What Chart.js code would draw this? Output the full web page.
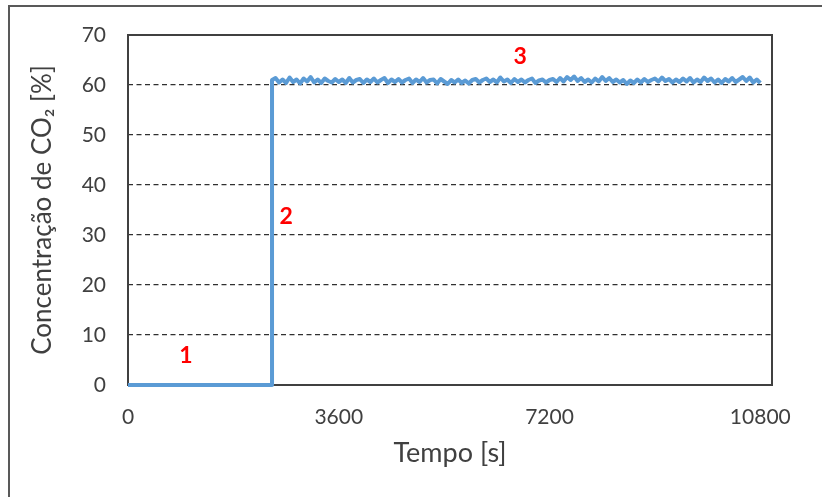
<!DOCTYPE html>
<html>
<head>
<meta charset="utf-8">
<script src="https://cdn.jsdelivr.net/npm/chart.js@4/dist/chart.umd.min.js"></script>
<style>
  html, body { margin: 0; padding: 0; background: #ffffff; }
  #wrap { position: relative; width: 822px; height: 497px; }
</style>
</head>
<body>
<div id="wrap"><canvas id="c" width="822" height="497"></canvas></div>
<script>
// ---- Data ----
const timeSeconds = [
  0, 2460,
  2460, 2520, 2580, 2640, 2700, 2760, 2820, 2880, 2940, 3000,
  3060, 3120, 3180, 3240, 3300, 3360, 3420, 3480, 3540, 3600,
  3660, 3720, 3780, 3840, 3900, 3960, 4020, 4080, 4140, 4200,
  4260, 4320, 4380, 4440, 4500, 4560, 4620, 4680, 4740, 4800,
  4860, 4920, 4980, 5040, 5100, 5160, 5220, 5280, 5340, 5400,
  5460, 5520, 5580, 5640, 5700, 5760, 5820, 5880, 5940, 6000,
  6060, 6120, 6180, 6240, 6300, 6360, 6420, 6480, 6540, 6600,
  6660, 6720, 6780, 6840, 6900, 6960, 7020, 7080, 7140, 7200,
  7260, 7320, 7380, 7440, 7500, 7560, 7620, 7680, 7740, 7800,
  7860, 7920, 7980, 8040, 8100, 8160, 8220, 8280, 8340, 8400,
  8460, 8520, 8580, 8640, 8700, 8760, 8820, 8880, 8940, 9000,
  9060, 9120, 9180, 9240, 9300, 9360, 9420, 9480, 9540, 9600,
  9660, 9720, 9780, 9840, 9900, 9960, 10020, 10080, 10140, 10200,
  10260, 10320, 10380, 10440, 10500, 10560, 10620, 10680, 10740, 10800
];
const co2Percent = [
  0, 0,
  61.0, 61.4, 60.5, 61.1, 60.4, 61.5, 60.6, 61.1, 60.3, 61.3,
  60.7, 61.6, 60.5, 61.1, 60.4, 61.3, 60.8, 60.5, 61.2, 60.6,
  61.1, 60.4, 61.4, 60.5, 61.0, 61.2, 60.4, 61.1, 60.6, 61.3,
  60.5, 61.0, 61.4, 60.4, 61.1, 60.6, 61.2, 60.5, 61.0, 61.3,
  60.4, 61.1, 60.6, 61.4, 60.5, 61.0, 61.1, 60.3, 61.2, 60.7,
  60.2, 61.0, 60.5, 61.1, 60.4, 60.9, 60.3, 61.0, 61.2, 60.5,
  61.0, 61.3, 60.6, 61.1, 60.5, 61.5, 60.7, 61.1, 60.4, 61.2,
  60.6, 61.1, 60.5, 61.0, 61.3, 60.4, 60.9, 61.1, 60.5, 61.0,
  61.2, 60.6, 61.4, 60.7, 61.6, 61.0, 61.7, 60.8, 61.4, 60.6,
  61.1, 60.5, 61.3, 60.7, 61.6, 60.8, 61.4, 60.6, 61.1, 60.5,
  61.0, 60.2, 60.9, 60.4, 61.1, 60.5, 61.2, 60.6, 61.0, 61.3,
  60.7, 61.5, 60.8, 61.2, 60.5, 61.1, 60.6, 61.3, 60.7, 61.4,
  60.5, 61.1, 60.6, 61.5, 60.8, 61.3, 60.5, 61.1, 60.4, 61.2,
  60.7, 61.4, 60.6, 61.1, 61.6, 60.8, 61.5, 60.5, 61.1, 60.4
];
const xTickValues = [0, 3600, 7200, 10800];
const yTickValues = [0, 10, 20, 30, 40, 50, 60, 70];
const phaseLabels = ['1', '2', '3'];
const phaseLabelX = [990, 2700, 6700];
const phaseLabelY = [5.8, 33.6, 65.6];
const xAxisTitle = 'Tempo [s]';
const yAxisTitle = 'Concentração de CO₂ [%]';

const points = timeSeconds.map((t, i) => ({ x: t, y: co2Percent[i] }));

const FONT = "Lato, 'DejaVu Sans', sans-serif";
const AXIS_COLOR = '#404040';

const framePlugin = {
  id: 'framePlugin',
  beforeDraw(chart) {
    const ctx = chart.ctx;
    ctx.save();
    ctx.strokeStyle = '#595959';
    ctx.lineWidth = 2;
    ctx.beginPath();
    ctx.moveTo(9, 497);
    ctx.lineTo(9, 6);
    ctx.lineTo(822, 6);
    ctx.stroke();
    ctx.restore();
  },
  beforeDatasetsDraw(chart) {
    const { ctx, chartArea: a } = chart;
    ctx.save();
    ctx.strokeStyle = AXIS_COLOR;
    ctx.lineWidth = 2;
    ctx.strokeRect(a.left, a.top, a.right - a.left, a.bottom - a.top);
    ctx.restore();
  },
  afterDatasetsDraw(chart) {
    const { ctx, scales } = chart;
    ctx.save();
    ctx.fillStyle = '#ff0000';
    ctx.font = "bold 23px " + FONT;
    ctx.textAlign = 'center';
    ctx.textBaseline = 'middle';
    phaseLabels.forEach((txt, i) => {
      ctx.fillText(txt, scales.x.getPixelForValue(phaseLabelX[i]), scales.y.getPixelForValue(phaseLabelY[i]));
    });
    ctx.restore();
  }
};

new Chart(document.getElementById('c'), {
  type: 'line',
  data: {
    datasets: [{
      data: points,
      borderColor: '#5b9bd5',
      borderWidth: 4,
      borderJoinStyle: 'round',
      pointRadius: 0,
      tension: 0,
      fill: false,
      clip: false
    }]
  },
  options: {
    responsive: false,
    animation: false,
    layout: { padding: { left: 0, right: 50, top: 35, bottom: 0 } },
    plugins: { legend: { display: false }, tooltip: { enabled: false } },
    scales: {
      x: {
        type: 'linear',
        min: 0,
        max: 11000,
        afterBuildTicks(scale) { scale.ticks = xTickValues.map(v => ({ value: v })); },
        afterFit(scale) { scale.height = 112; },
        grid: { display: false, drawTicks: false },
        border: { display: false },
        ticks: {
          color: AXIS_COLOR,
          font: { family: FONT, size: 21 },
          padding: 20,
          maxRotation: 0,
          autoSkip: false,
          callback: v => String(v)
        },
        title: {
          display: true,
          text: xAxisTitle,
          color: AXIS_COLOR,
          font: { family: FONT, size: 27 },
          padding: { top: 0, bottom: 28 }
        }
      },
      y: {
        type: 'linear',
        min: 0,
        max: 70,
        afterBuildTicks(scale) { scale.ticks = yTickValues.map(v => ({ value: v })); },
        afterFit(scale) { scale.width = 128; },
        grid: {
          drawTicks: false,
          color: ctx => (ctx.tick && (ctx.tick.value === 0 || ctx.tick.value === 70)) ? 'rgba(0,0,0,0)' : '#303030',
          lineWidth: 1.3
        },
        border: { display: false, dash: [5, 3.5] },
        ticks: {
          color: AXIS_COLOR,
          font: { family: FONT, size: 21 },
          padding: 22,
          callback: v => String(v)
        },
        title: {
          display: true,
          text: yAxisTitle,
          color: AXIS_COLOR,
          font: { family: FONT, size: 26 },
          padding: { top: 27, bottom: 0 }
        }
      }
    }
  },
  plugins: [framePlugin]
});
</script>
</body>
</html>
